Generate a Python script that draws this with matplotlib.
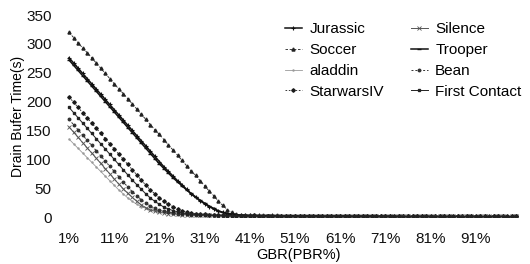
import matplotlib
matplotlib.use("Agg")
import matplotlib.pyplot as plt

plt.rcParams['font.family'] = ['Liberation Sans', 'DejaVu Sans']

# GBR as % of PBR, 1% .. 100%
gbr = list(range(1, 101))
tick_labels = ['1%', '11%', '21%', '31%', '41%', '51%', '61%', '71%', '81%', '91%']

# drain buffer time (s)
jurassic = [276, 267, 258, 249, 240, 231, 222, 213, 204, 195,
            186, 177, 168, 159, 150, 141, 132, 123, 114, 105,
            96, 87, 79, 71, 63, 56, 48, 40, 34, 28,
            23, 18, 14, 10, 8, 6, 5, 4, 3, 3,
            3, 2, 3, 2, 2, 3, 2, 2, 2, 2, 2, 1, 2, 2, 1, 2, 1, 2, 1, 2,
            1, 1, 2, 1, 1, 2, 1, 1, 1, 1, 1, 2, 1, 1, 1, 1, 1, 1, 1, 1,
            1, 1, 0, 1, 1, 1, 1, 0, 1, 1, 1, 0, 1, 1, 1, 0, 1, 1, 0, 1]
soccer = [320, 311, 302, 293, 285, 276, 267, 258, 249, 240,
          231, 222, 214, 205, 196, 187, 178, 169, 160, 151,
          143, 134, 125, 116, 107, 98, 89, 80, 72, 63,
          54, 45, 37, 28, 20, 13, 8, 5, 4, 3,
          3, 3, 2, 3, 2, 2, 3, 2, 2, 2, 2, 2, 1, 2, 2, 1, 2, 2, 1, 2,
          1, 2, 1, 1, 2, 1, 1, 2, 1, 1, 1, 1, 2, 1, 1, 1, 1, 1, 1, 2,
          1, 1, 1, 1, 1, 1, 0, 1, 1, 1, 1, 1, 0, 1, 1, 1, 0, 1, 1, 1]
aladdin = [135, 127, 119, 111, 103, 95, 87, 79, 71, 63,
           55, 47, 40, 33, 27, 22, 18, 15, 13, 12,
           11, 10, 9, 8, 7, 6, 5, 5, 4, 4,
           3, 3, 3, 3, 2, 2, 2, 2, 2, 2,
           2, 2, 1, 2, 2, 1, 2, 1, 1, 2, 1, 1, 2, 1, 1, 1, 2, 1, 1, 1,
           1, 1, 1, 2, 1, 1, 1, 1, 0, 1, 1, 1, 1, 1, 0, 1, 1, 1, 1, 0,
           1, 1, 1, 0, 1, 1, 1, 1, 0, 1, 0, 1, 1, 0, 1, 1, 0, 1, 1, 0]
starwars = [208, 199, 190, 181, 172, 163, 154, 145, 136, 127,
            118, 109, 100, 91, 82, 73, 64, 55, 47, 40,
            33, 27, 22, 18, 14, 11, 9, 7, 6, 5,
            5, 4, 4, 3, 3, 3, 3, 2, 2, 2,
            2, 3, 2, 2, 2, 2, 1, 2, 2, 2, 1, 2, 1, 2, 1, 1, 2, 1, 1, 2,
            1, 1, 1, 1, 2, 1, 1, 1, 1, 1, 1, 1, 0, 1, 1, 1, 1, 1, 1, 1,
            0, 1, 1, 1, 1, 0, 1, 1, 1, 1, 0, 1, 1, 0, 1, 1, 1, 0, 1, 1]
silence = [156, 147, 138, 129, 120, 111, 102, 93, 84, 75,
           66, 57, 49, 41, 34, 27, 21, 16, 12, 10,
           8, 7, 6, 5, 5, 4, 4, 3, 3, 3,
           3, 3, 2, 2, 2, 2, 2, 2, 2, 2,
           2, 1, 2, 2, 1, 2, 2, 1, 2, 1, 2, 1, 1, 2, 1, 1, 1, 2, 1, 1,
           1, 1, 1, 1, 1, 2, 1, 1, 1, 0, 1, 1, 1, 1, 1, 1, 0, 1, 1, 1,
           1, 0, 1, 1, 1, 1, 0, 1, 1, 1, 0, 1, 1, 1, 0, 1, 1, 0, 1, 1]
trooper = [272, 263, 254, 245, 236, 227, 218, 209, 200, 191,
           182, 173, 164, 155, 146, 137, 128, 119, 110, 101,
           92, 84, 76, 68, 61, 54, 47, 41, 35, 29,
           24, 19, 15, 11, 8, 6, 5, 4, 3, 3,
           2, 3, 2, 2, 3, 2, 2, 2, 1, 2, 2, 2, 1, 2, 1, 2, 1, 1, 2, 1,
           1, 2, 1, 1, 1, 1, 1, 2, 1, 1, 1, 1, 1, 1, 1, 0, 1, 1, 1, 1,
           1, 1, 1, 0, 1, 1, 1, 0, 1, 1, 1, 1, 0, 1, 1, 1, 1, 0, 1, 1]
bean = [169, 160, 151, 142, 133, 124, 115, 106, 97, 88,
        79, 70, 61, 52, 44, 37, 30, 24, 19, 15,
        12, 10, 8, 7, 6, 5, 5, 4, 4, 3,
        3, 3, 3, 2, 2, 2, 2, 2, 2, 2,
        1, 2, 2, 2, 1, 2, 1, 2, 2, 1, 1, 2, 1, 1, 2, 1, 1, 1, 1, 2,
        1, 1, 1, 1, 1, 1, 2, 1, 1, 1, 1, 0, 1, 1, 1, 1, 1, 1, 0, 1,
        1, 1, 1, 1, 0, 1, 1, 1, 1, 0, 1, 1, 1, 0, 1, 1, 1, 1, 0, 1]
first_contact = [190, 181, 172, 163, 154, 145, 136, 127, 118, 109,
                 100, 91, 82, 73, 64, 56, 48, 40, 33, 27,
                 22, 17, 14, 11, 9, 7, 6, 5, 5, 4,
                 4, 3, 3, 3, 3, 2, 2, 2, 2, 2,
                 2, 2, 2, 1, 2, 2, 2, 1, 2, 1, 2, 1, 2, 1, 1, 2, 1, 1, 1, 1,
                 2, 1, 1, 1, 1, 1, 1, 1, 1, 2, 1, 1, 1, 1, 0, 1, 1, 1, 1, 1,
                 1, 0, 1, 1, 1, 1, 1, 0, 1, 1, 1, 1, 1, 0, 1, 1, 0, 1, 1, 1]

fig = plt.figure(figsize=(5.3, 2.64), dpi=100)
ax = fig.add_axes([0.126, 0.178, 0.874, 0.765])

# legend fills column-wise: Jurassic, Soccer, aladdin, StarwarsIV | Silence, Trooper, Bean, First Contact
ax.plot(gbr, jurassic, color='#111111', lw=1.1, marker='+', ms=3, mew=0.8, label='Jurassic')
ax.plot(gbr, soccer, color='#222222', lw=0.6, ls=(0, (3, 2)), marker='^', ms=2.2, label='Soccer')
ax.plot(gbr, aladdin, color='#9a9a9a', lw=0.6, marker='.', ms=1.5, label='aladdin')
ax.plot(gbr, starwars, color='#1a1a1a', lw=0.6, ls=(0, (2, 2)), marker='D', ms=1.8, label='StarwarsIV')
ax.plot(gbr, silence, color='#555555', lw=0.7, marker='x', ms=2.2, mew=0.6, label='Silence')
ax.plot(gbr, trooper, color='#111111', lw=1.1, marker='_', ms=3, label='Trooper')
ax.plot(gbr, bean, color='#333333', lw=0.7, ls=(0, (2, 2)), marker='o', ms=1.8, label='Bean')
ax.plot(gbr, first_contact, color='#222222', lw=0.7, marker='s', ms=1.8, label='First Contact')

ax.set_xlim(0.5, 103)
ax.set_ylim(0, 350)
ax.set_yticks(range(0, 351, 50))
ax.set_xticks(gbr[::10])
ax.set_xticklabels(tick_labels)
ax.tick_params(length=0, labelsize=11, colors='#111111')
ax.tick_params(axis='y', pad=11)
ax.tick_params(axis='x', pad=11)
for s in ax.spines.values():
    s.set_visible(False)

ax.set_xlabel('GBR(PBR%)', fontsize=10.5, labelpad=1)
ax.set_ylabel('Drain Bufer Time(s)', fontsize=10, labelpad=1)

leg = ax.legend(ncol=2, loc='upper left', bbox_to_anchor=(0.458, 0.995), frameon=False,
                fontsize=11, handlelength=1.1, handletextpad=0.5, columnspacing=1.75,
                labelspacing=0.45, borderaxespad=0)

fig.savefig('out.png', dpi=100)
